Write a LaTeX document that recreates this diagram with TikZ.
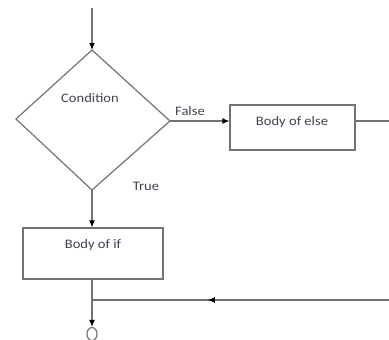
\documentclass[tikz,border=0pt]{standalone}
\usepackage{fontspec}
\newfontfamily\lbl[FakeStretch=1.12]{Carlito}
\usetikzlibrary{arrows.meta,decorations.markings,shapes.geometric}
\definecolor{linec}{RGB}{115,115,115}
\definecolor{txtc}{RGB}{65,67,82}
\begin{document}
\begin{tikzpicture}[x=1pt,y=-1pt,
  lbl/.style={font=\lbl\fontsize{13}{15}\selectfont,text=txtc,inner sep=0pt},
  conn/.style={draw=linec,line width=1.2pt},
  arr/.style={conn,-{Latex[length=7pt,width=6pt,black]}},
  midarr/.style={conn,postaction={decorate},decoration={markings,mark=at position #1 with {\arrow{Latex[length=7pt,width=6pt,black]}}}},
  boxs/.style={draw=linec,line width=1.2pt,fill=white}]
\useasboundingbox (0,0) rectangle (389,340);
% diamond
\coordinate (dt) at (92,50);
\coordinate (dl) at (16,119);
\coordinate (dr) at (170,121);
\coordinate (db) at (92,190);
\draw[conn] (dt) -- (dr) -- (db) -- (dl) -- cycle;
\node[lbl] (cond) at (90,98) {Condition};
\coordinate (start) at (92,8);
\draw[arr] (start) -- (dt);
% else box
\node[boxs,minimum width=125pt,minimum height=45pt,inner sep=0pt] (else) at (292.5,127.5) {};
\node[lbl] (elset) at (292,122) {Body of else};
\draw[arr] (dr) -- (else.west |- dr);
\node[lbl,anchor=south west] (false) at (175,116) {False};
\coordinate (eright) at (389,121);
\draw[conn] (else.east |- eright) -- (eright);
% if box
\node[boxs,minimum width=140pt,minimum height=51pt,inner sep=0pt] (if) at (93,253.5) {};
\node[lbl] (ift) at (93,245) {Body of if};
\draw[arr] (db) -- (if.north -| db);
\node[lbl] (true) at (146,186) {True};
% join
\coordinate (j) at (92,300);
\coordinate (rin) at (389,300);
\draw[midarr=0.61] (rin) -- (j);
\node[draw=linec,line width=1.2pt,ellipse,minimum width=10pt,minimum height=13pt,inner sep=0pt] (end) at (92,334) {};
\draw[arr] (if.south -| j) -- (end.north);
\end{tikzpicture}
\end{document}
